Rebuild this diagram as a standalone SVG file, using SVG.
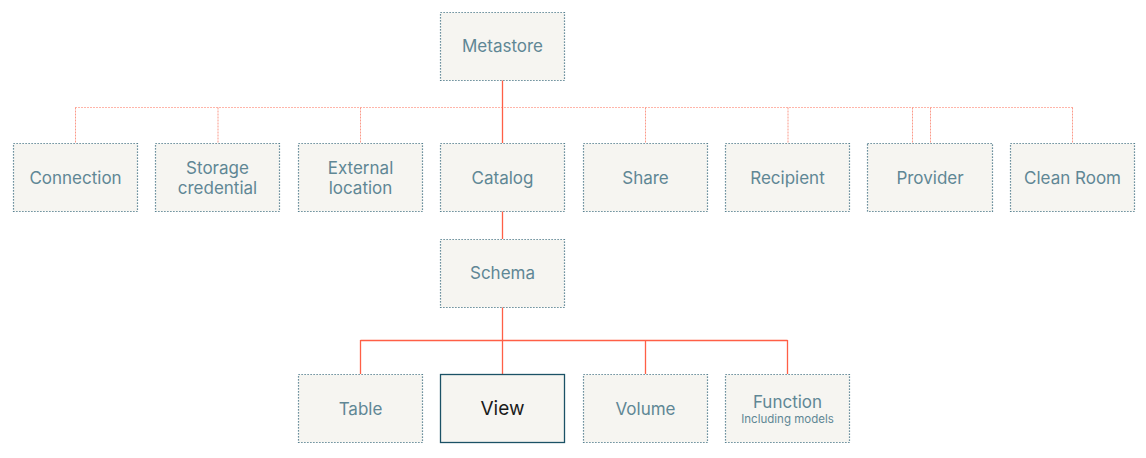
<svg xmlns="http://www.w3.org/2000/svg" width="1146" height="458" viewBox="0 0 1146 458">
<style>
.box{fill:#f6f5f1;stroke:#3f6e80;stroke-width:1.2;stroke-dasharray:1.2 1.8}
.sel{fill:#f6f5f1;stroke:#1b5266;stroke-width:1.3}
.t{font-family:Inter,"Open Sans","Liberation Sans",sans-serif;font-size:17px;fill:#5f8795;text-anchor:middle}
.ts{font-family:Inter,"Open Sans","Liberation Sans",sans-serif;font-size:11.5px;fill:#5f8795;text-anchor:middle}
.tv{font-family:Inter,"Open Sans","Liberation Sans",sans-serif;font-size:19px;fill:#1b1b1b;text-anchor:middle}
.solid{stroke:#ff5f46;stroke-width:1.3;fill:none}
.dot{stroke:#ff6a52;stroke-width:1;fill:none;stroke-dasharray:1 2}
.dv{stroke:#fb9a8a;stroke-width:1;fill:none;stroke-dasharray:2 1}
</style>
<rect width="1146" height="458" fill="#ffffff"/>
<g id="connectors">
<path class="dot" d="M75.5 107.5H1072.5"/>
<path class="dv" d="M75.5 107.5V143M218 107.5V143M360.5 107.5V143M645.5 107.5V143M788 107.5V143M912.5 107.5V143M930.5 107.5V143M1072.5 107.5V143"/>
<path class="solid" d="M502.5 80V143M502.5 211V239M502.5 307V374M360.5 340.5H787.5M360.5 340V374M645.5 340V374M787.5 340V374"/>
</g>
<g id="metastore"><rect class="box" x="440.5" y="12.5" width="124" height="68"/><text class="t" x="502.5" y="52">Metastore</text></g>
<g id="connection"><rect class="box" x="13.5" y="143.5" width="124" height="68"/><text class="t" x="75.5" y="184">Connection</text></g>
<g id="storage-credential"><rect class="box" x="155.5" y="143.5" width="124" height="68"/><text class="t" x="217.5" y="174">Storage</text><text class="t" x="217.5" y="194">credential</text></g>
<g id="external-location"><rect class="box" x="298.5" y="143.5" width="124" height="68"/><text class="t" x="360.5" y="174">External</text><text class="t" x="360.5" y="194">location</text></g>
<g id="catalog"><rect class="box" x="440.5" y="143.5" width="124" height="68"/><text class="t" x="502.5" y="184">Catalog</text></g>
<g id="share"><rect class="box" x="583.5" y="143.5" width="124" height="68"/><text class="t" x="645.5" y="184">Share</text></g>
<g id="recipient"><rect class="box" x="725.5" y="143.5" width="124" height="68"/><text class="t" x="787.5" y="184">Recipient</text></g>
<g id="provider"><rect class="box" x="867.5" y="143.5" width="125" height="68"/><text class="t" x="930" y="184">Provider</text></g>
<g id="clean-room"><rect class="box" x="1010.5" y="143.5" width="124" height="68"/><text class="t" x="1072.5" y="184">Clean Room</text></g>
<g id="schema"><rect class="box" x="440.5" y="239.5" width="124" height="68"/><text class="t" x="502.5" y="279">Schema</text></g>
<g id="table"><rect class="box" x="298.5" y="374.5" width="124" height="68"/><text class="t" x="360.5" y="415">Table</text></g>
<g id="view"><rect class="sel" x="440.5" y="374.5" width="124" height="68"/><text class="tv" x="502.5" y="415">View</text></g>
<g id="volume"><rect class="box" x="583.5" y="374.5" width="124" height="68"/><text class="t" x="645.5" y="415">Volume</text></g>
<g id="function"><rect class="box" x="725.5" y="374.5" width="124" height="68"/><text class="t" x="787.5" y="408">Function</text><text class="ts" x="787.5" y="423">Including models</text></g>
</svg>
